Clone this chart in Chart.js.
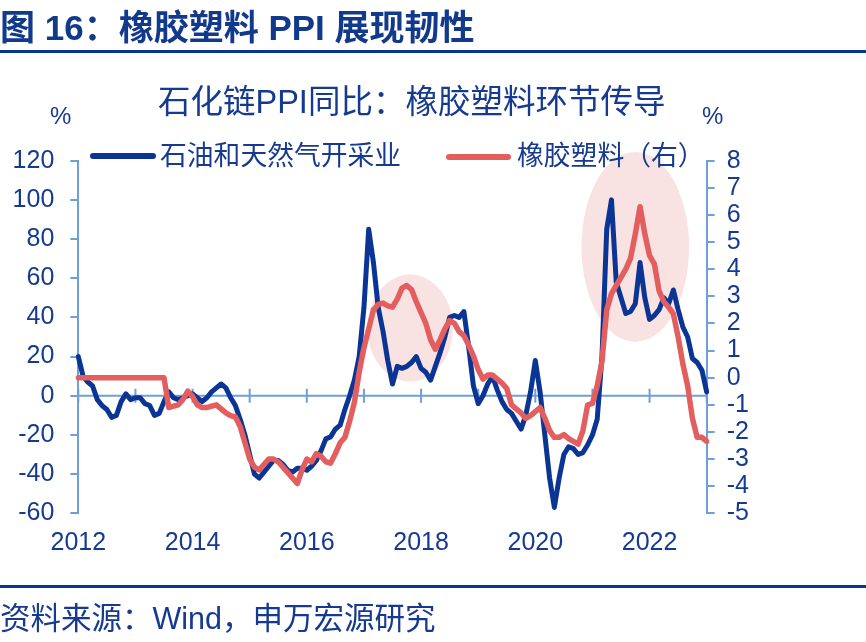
<!DOCTYPE html>
<html>
<head>
<meta charset="utf-8">
<script src="https://cdn.jsdelivr.net/npm/chart.js@4.4.1/dist/chart.umd.min.js"></script>
<style>
  html, body { margin: 0; padding: 0; background: #fff; }
  #wrap { position: relative; width: 866px; height: 642px; overflow: hidden; }
  #chart { position: absolute; left: 0; top: 0; }
  .txt { position: absolute; white-space: nowrap; color: #163a8f;
         font-family: "Liberation Sans", "Noto Sans CJK SC", sans-serif; }
  .rule { position: absolute; left: 0; width: 866px; height: 3px; background: #0b3594; }
  .swatch { position: absolute; height: 6px; border-radius: 3px; }
</style>
</head>
<body>
<div id="wrap">
  <canvas id="chart" width="866" height="642"></canvas>
  <div class="txt" style="left:0;top:10px;font-size:35px;line-height:35px;font-weight:bold;color:#123a8c;">图 16：橡胶塑料 PPI 展现韧性</div>
  <div class="rule" style="top:50px;"></div>
  <div class="txt" style="left:158px;top:86px;font-size:32.5px;line-height:32px;">石化链PPI同比：橡胶塑料环节传导</div>
  <div class="txt" style="left:50px;top:104px;font-size:24px;line-height:24px;">%</div>
  <div class="txt" style="left:702px;top:104px;font-size:24px;line-height:24px;">%</div>
  <div class="swatch" style="left:90px;top:153px;width:66px;background:#0b3594;"></div>
  <div class="txt" style="left:160px;top:143px;font-size:26.8px;line-height:26px;">石油和天然气开采业</div>
  <div class="swatch" style="left:446px;top:154px;width:65px;background:#e35f5f;"></div>
  <div class="txt" style="left:517px;top:143px;font-size:26.8px;line-height:26px;">橡胶塑料（右）</div>
  <div class="rule" style="top:585px;"></div>
  <div class="txt" style="left:0;top:603px;font-size:30.5px;line-height:30px;">资料来源：Wind，申万宏源研究</div>
</div>
<script>
// 月份：2012-01 ~ 2023-01
const years = [2012, 2013, 2014, 2015, 2016, 2017, 2018, 2019, 2020, 2021, 2022, 2023];
const months = [];
years.forEach(function (y) {
    for (let m = 1; m <= 12; m++) {
        if (y === 2023 && m > 1) break;
        months.push(y + '-' + (m < 10 ? '0' + m : m));
    }
});

// 石油和天然气开采业 PPI 同比（左轴，%）
const oilGas = [
    20, 10, 7, 5, -2, -5, -7, -11, -10, -3, 1, -2,
    -1, -1, -4, -5, -10, -9, -3, 2, -1, -2, -1, 0,
    1, -1, -3, -1, 2, 4, 6, 4, -1, -5, -12, -20,
    -30, -40, -42, -39, -36, -33, -33, -35, -38, -39, -37, -37,
    -38, -36, -33, -28, -22, -21, -17, -15, -7, 0, 8, 20,
    45, 85, 68, 45, 33, 18, 6, 15, 14, 15, 17, 20,
    14, 12, 8, 15, 22, 30, 40, 41, 40, 43, 25, 5,
    -4, 0, 6, 10, 3, -3, -7, -9, -13, -17, -10, 2,
    18, 2, -20, -42, -57, -42, -30, -26, -27, -30, -29, -25,
    -20, -12, 20, 85, 100, 58, 50, 42, 43, 47, 68, 50,
    39, 41, 44, 50, 47, 54, 44, 35, 30, 19, 17, 13,
    2
];

// 橡胶和塑料制品业 PPI 同比（右轴，%）
const rubberPlastics = [
    0, 0, 0, 0, 0, 0, 0, 0, 0, 0, 0, 0,
    0, 0, 0, 0, 0, 0, 0, -1.1, -1.05, -1.0, -0.8, -0.5,
    -0.7, -1.0, -1.1, -1.1, -1.05, -1.0, -1.15, -1.3, -1.4, -1.45, -1.8, -2.4,
    -3.0, -3.3, -3.4, -3.2, -3.0, -3.0, -3.1, -3.3, -3.5, -3.7, -3.9, -3.4,
    -3.0, -3.1, -2.8, -2.9, -3.1, -3.15, -2.8, -2.4, -2.2, -1.6, -0.9, 0.2,
    1.1, 1.8, 2.5, 2.7, 2.75, 2.65, 2.6, 2.9, 3.3, 3.4, 3.25, 2.8,
    2.4, 2.0, 1.4, 1.05, 1.4, 1.8, 2.1, 2.0, 1.7, 1.55, 1.2, 0.8,
    0.3, -0.05, 0.1, 0.1, -0.05, -0.2, -0.4, -1.0, -1.15, -1.3, -1.5, -1.4,
    -1.25, -1.1, -1.5, -1.95, -2.2, -2.2, -2.1, -2.25, -2.35, -2.45, -1.95, -1.0,
    -0.95, -0.3, 0.6, 2.5, 3.1, 3.4, 3.7, 4.0, 4.4, 5.3, 6.3, 5.3,
    4.5, 4.2, 3.2, 2.8, 2.6, 2.35, 1.5, 0.5, -0.3, -1.5, -2.2, -2.2,
    -2.35
];

const leftRange = [-60, 120];
const rightRange = [-5, 8];

// 高亮区域（月份序号、右轴数值）
const highlights = [
    { cx: 69.7, cy: 1.83, rx: 9.0, ry: 1.97 },
    { cx: 117.0, cy: 4.82, rx: 11.3, ry: 3.5 }
];

const axisColor = '#6f9fd8';
const tickColor = '#163a8f';

const backdrop = {
    id: 'backdrop',
    beforeDatasetsDraw: function (chart) {
        const ctx = chart.ctx;
        const xs = chart.scales.x, yl = chart.scales.y, yr = chart.scales.y1;
        ctx.save();
        ctx.fillStyle = '#f9e2e2';
        highlights.forEach(function (h) {
            const cx = xs.getPixelForValue(h.cx);
            const cy = yr.getPixelForValue(h.cy);
            const rx = Math.abs(xs.getPixelForValue(h.cx + h.rx) - cx);
            const ry = Math.abs(yr.getPixelForValue(h.cy + h.ry) - cy);
            ctx.beginPath();
            ctx.ellipse(cx, cy, rx, ry, 0, 0, Math.PI * 2);
            ctx.fill();
        });
        // 零轴与年份刻度
        const y0 = yl.getPixelForValue(0);
        ctx.strokeStyle = axisColor;
        ctx.lineWidth = 2;
        ctx.beginPath();
        ctx.moveTo(chart.chartArea.left, y0);
        ctx.lineTo(chart.chartArea.right, y0);
        for (let i = 0; i < months.length; i += 12) {
            const x = xs.getPixelForValue(i);
            ctx.moveTo(x, y0 - 7);
            ctx.lineTo(x, y0 + 7);
        }
        ctx.stroke();
        ctx.restore();
    }
};

const ctx = document.getElementById('chart').getContext('2d');
new Chart(ctx, {
    type: 'line',
    data: {
        labels: months,
        datasets: [{
            label: '石油和天然气开采业',
            data: oilGas,
            yAxisID: 'y',
            borderColor: '#0b3594',
            borderWidth: 5,
            order: 2
        }, {
            label: '橡胶塑料（右）',
            data: rubberPlastics,
            yAxisID: 'y1',
            borderColor: '#e35f5f',
            borderWidth: 5.5,
            order: 1
        }]
    },
    options: {
        responsive: false,
        animation: false,
        layout: { padding: { top: 160.7, left: 0, right: 0, bottom: 0 } },
        elements: {
            point: { radius: 0 },
            line: { tension: 0, borderJoinStyle: 'round', borderCapStyle: 'round' }
        },
        plugins: {
            legend: { display: false },
            tooltip: { enabled: false }
        },
        scales: {
            x: {
                type: 'category',
                offset: false,
                border: { display: false },
                grid: { display: false, drawTicks: false },
                afterFit: function (scale) { scale.height = 128.7; },
                ticks: {
                    autoSkip: false,
                    maxRotation: 0,
                    padding: 15,
                    color: tickColor,
                    font: { family: 'Liberation Sans', size: 25 },
                    callback: function (value, index) {
                        return index % 24 === 0 ? months[index].slice(0, 4) : '';
                    }
                }
            },
            y: {
                position: 'left',
                min: leftRange[0],
                max: leftRange[1],
                afterFit: function (scale) { scale.width = 78.3; },
                border: { display: true, color: axisColor, width: 2 },
                grid: { drawOnChartArea: false, color: axisColor, lineWidth: 2, tickLength: 8 },
                ticks: {
                    stepSize: 20,
                    autoSkip: false,
                    padding: 16,
                    color: tickColor,
                    font: { family: 'Liberation Sans', size: 25 }
                }
            },
            y1: {
                position: 'right',
                min: rightRange[0],
                max: rightRange[1],
                afterFit: function (scale) { scale.width = 159.3; },
                border: { display: true, color: axisColor, width: 2 },
                grid: { drawOnChartArea: false, color: axisColor, lineWidth: 2, tickLength: 8 },
                ticks: {
                    stepSize: 1,
                    autoSkip: false,
                    padding: 12,
                    color: tickColor,
                    font: { family: 'Liberation Sans', size: 25 }
                }
            }
        }
    },
    plugins: [backdrop]
});
</script>
</body>
</html>
